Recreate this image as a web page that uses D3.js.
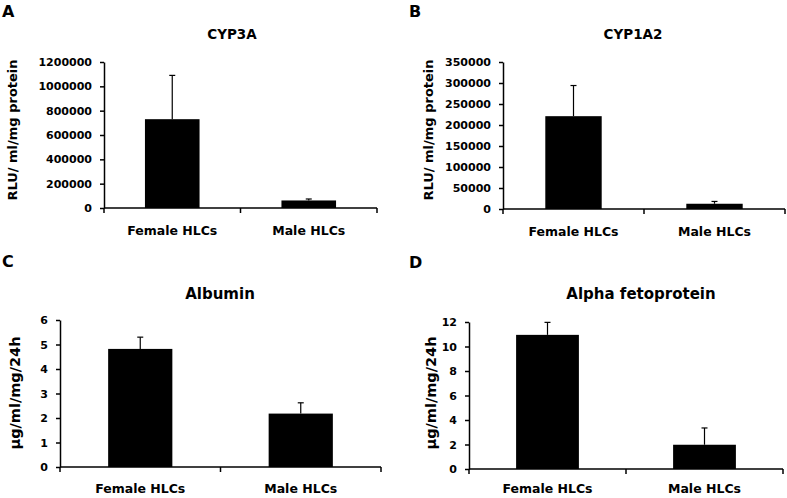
<!DOCTYPE html>
<html><head><meta charset="utf-8">
<script src="https://cdn.jsdelivr.net/npm/d3@7"></script>
<style>
body{margin:0;background:#fff;}
svg text{font-family:"DejaVu Sans",sans-serif;font-weight:bold;fill:#000;}
</style></head>
<body><svg id="c" width="787" height="498"></svg>
<script>
const categories = ["Female HLCs", "Male HLCs"];
const cyp3aMean = [730000, 62000];
const cyp3aErr = [360000, 12000];
const cyp1a2Mean = [221000, 12500];
const cyp1a2Err = [73000, 5500];
const albuminMean = [4.82, 2.18];
const albuminErr = [0.48, 0.44];
const afpMean = [10.95, 1.98];
const afpErr = [1.02, 1.37];
const cyp3aTicks = [0, 200000, 400000, 600000, 800000, 1000000, 1200000];
const cyp1a2Ticks = [0, 50000, 100000, 150000, 200000, 250000, 300000, 350000];
const albuminTicks = [0, 1, 2, 3, 4, 5, 6];
const afpTicks = [0, 2, 4, 6, 8, 10, 12];

const panels = [
  {letter:"A", title:"CYP3A", ylabel:"RLU/ ml/mg protein", mean:cyp3aMean, err:cyp3aErr, ticks:cyp3aTicks,
   x0:104, x1:377, yTop:62, yBot:208, letterPos:[2,17], titlePos:[232,39], ylabPos:[17,130], ylabSize:13, titleSize:13.5, catY:235},
  {letter:"B", title:"CYP1A2", ylabel:"RLU/ ml/mg protein", mean:cyp1a2Mean, err:cyp1a2Err, ticks:cyp1a2Ticks,
   x0:503, x1:785, yTop:62, yBot:209, letterPos:[409,17], titlePos:[633,39], ylabPos:[433,130], ylabSize:13, titleSize:13.5, catY:236},
  {letter:"C", title:"Albumin", ylabel:"µg/ml/mg/24h", mean:albuminMean, err:albuminErr, ticks:albuminTicks,
   x0:60, x1:381, yTop:320, yBot:467, letterPos:[2,267], titlePos:[220,299], ylabPos:[20,393], ylabSize:14.5, titleSize:15, catY:493},
  {letter:"D", title:"Alpha fetoprotein", ylabel:"µg/ml/mg/24h", mean:afpMean, err:afpErr, ticks:afpTicks,
   x0:469, x1:783, yTop:322, yBot:469, letterPos:[409,268], titlePos:[641,299], ylabPos:[436,393], ylabSize:14.5, titleSize:15, catY:493}
];

const svg = d3.select("#c");

panels.forEach(p => {
  const g = svg.append("g");
  const y = d3.scaleLinear().domain([0, d3.max(p.ticks)]).range([p.yBot, p.yTop]);
  const x = d3.scaleBand().domain(categories).range([p.x0, p.x1]).paddingInner(0.6).paddingOuter(0.3);

  // bars
  g.selectAll("rect.bar").data(categories).enter().append("rect")
    .attr("x", c => x(c)).attr("width", x.bandwidth())
    .attr("y", (c,i) => y(p.mean[i])).attr("height", (c,i) => y(0) - y(p.mean[i]))
    .attr("fill", "#000");

  // error bars (upper only)
  categories.forEach((c,i) => {
    const cx = x(c) + x.bandwidth()/2;
    g.append("line").attr("x1", cx).attr("x2", cx)
      .attr("y1", y(p.mean[i])).attr("y2", y(p.mean[i] + p.err[i]))
      .attr("stroke", "#000").attr("stroke-width", 1.2);
    g.append("line").attr("x1", cx - 3).attr("x2", cx + 3)
      .attr("y1", y(p.mean[i] + p.err[i])).attr("y2", y(p.mean[i] + p.err[i]))
      .attr("stroke", "#000").attr("stroke-width", 1.2);
  });

  // y axis
  const ya = g.append("g").attr("transform", `translate(${p.x0},0)`)
    .call(d3.axisLeft(y).tickValues(p.ticks).tickSize(4).tickSizeOuter(0).tickPadding(8).tickFormat(d3.format("d")));
  ya.select(".domain").attr("stroke", "#000").attr("stroke-width", 1.5);
  ya.selectAll(".tick line").attr("stroke", "#000").attr("stroke-width", 1.5);
  ya.selectAll(".tick text").style("font-family", "'DejaVu Sans',sans-serif").style("font-weight", "bold").style("font-size", "11px").attr("fill", "#000");

  // x axis (line with boundary ticks)
  const xr = x.range();
  const bounds = [xr[0], (xr[0] + xr[1]) / 2, xr[1]];
  g.append("line").attr("x1", xr[0]).attr("x2", xr[1]).attr("y1", y(0)).attr("y2", y(0))
    .attr("stroke", "#000").attr("stroke-width", 1.5);
  g.selectAll("line.xt").data(bounds).enter().append("line")
    .attr("x1", d => d).attr("x2", d => d).attr("y1", y(0)).attr("y2", y(0) + 5)
    .attr("stroke", "#000").attr("stroke-width", 1.5);

  // category labels
  g.selectAll("text.cat").data(categories).enter().append("text")
    .attr("x", c => x(c) + x.bandwidth()/2).attr("y", p.catY)
    .attr("text-anchor", "middle").style("font-size", "12.5px").text(c => c);

  // title
  g.append("text").attr("x", p.titlePos[0]).attr("y", p.titlePos[1]).attr("text-anchor", "middle")
    .style("font-size", p.titleSize + "px").text(p.title);

  // panel letter
  g.append("text").attr("x", p.letterPos[0]).attr("y", p.letterPos[1])
    .style("font-size", "16px").text(p.letter);

  // y label
  g.append("text").attr("transform", `translate(${p.ylabPos[0]},${p.ylabPos[1]}) rotate(-90)`)
    .attr("text-anchor", "middle").style("font-size", p.ylabSize + "px").text(p.ylabel);
});
</script></body></html>
